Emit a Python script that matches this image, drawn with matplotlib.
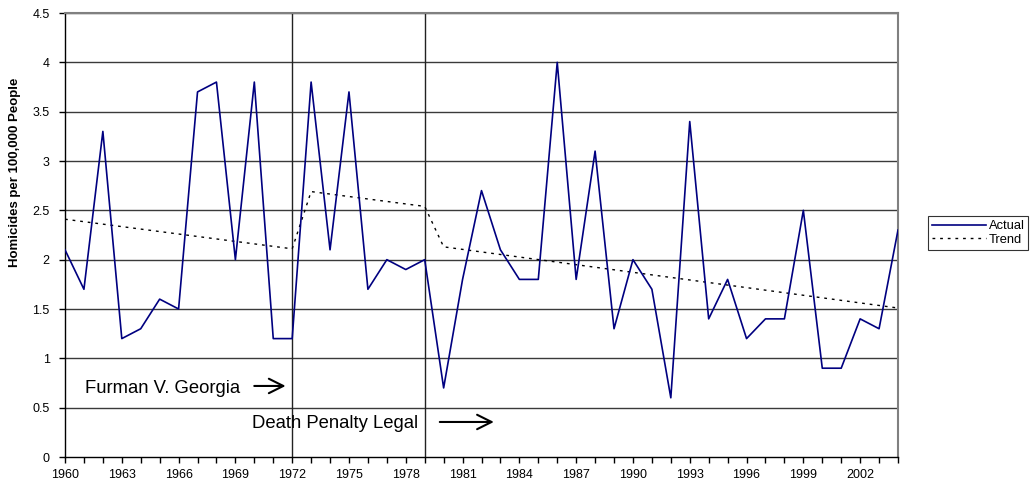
import matplotlib.pyplot as plt
import numpy as np

plt.rcParams['font.family'] = ['Liberation Sans', 'DejaVu Sans']

# data
years = list(range(1960, 2005))
actual = [2.1, 1.7, 3.3, 1.2, 1.3, 1.6, 1.5, 3.7, 3.8, 2.0,
          3.8, 1.2, 1.2, 3.8, 2.1, 3.7, 1.7, 2.0, 1.9, 2.0,
          0.7, 1.8, 2.7, 2.1, 1.8, 1.8, 4.0, 1.8, 3.1, 1.3,
          2.0, 1.7, 0.6, 3.4, 1.4, 1.8, 1.2, 1.4, 1.4, 2.5,
          0.9, 0.9, 1.4, 1.3, 2.3]
trend_years = [1960, 1972, 1973, 1979, 1980, 2004]
trend_vals = [2.41, 2.11, 2.69, 2.54, 2.13, 1.51]
event_years = [1972, 1979]
yticks = [0, 0.5, 1, 1.5, 2, 2.5, 3, 3.5, 4, 4.5]
ytick_labels = ['0', '0.5', '1', '1.5', '2', '2.5', '3', '3.5', '4', '4.5']
xlabel_years = list(range(1960, 2005, 3))

fig = plt.figure(figsize=(10.30, 4.87), dpi=100)
ax = fig.add_axes([65 / 1030, 30 / 487, 833 / 1030, 444 / 487])

for yv in yticks[1:]:
    ax.axhline(yv, color='#3a3a3a', lw=1, zorder=1)
for ev in event_years:
    ax.axvline(ev, color='#222222', lw=1, zorder=1)

ax.plot(years, actual, color='#000080', lw=1.2, label='Actual', zorder=3)
ax.plot(trend_years, trend_vals, color='black', lw=1.0, linestyle=(0, (2, 3.5)),
        label='Trend', zorder=2)

ax.set_xlim(1960, 2004)
ax.set_ylim(0, 4.5)
ax.set_xticks(years)
ax.set_xticklabels([str(y) if y in xlabel_years else '' for y in years])
ax.set_yticks(yticks)
ax.set_yticklabels(ytick_labels)
ax.tick_params(axis='both', direction='out', length=4, width=1, labelsize=9, color='black')
ax.tick_params(axis='y', pad=7)
ax.tick_params(axis='x', pad=5)

for s in ['left', 'bottom']:
    ax.spines[s].set_color('black')
    ax.spines[s].set_linewidth(1)
for s in ['top', 'right']:
    ax.spines[s].set_color('#808080')
    ax.spines[s].set_linewidth(1.5)

# annotations
ax.text(1961.06, 0.69, 'Furman V. Georgia', fontsize=13.3, va='center', ha='left')
ax.annotate('', xy=(1971.8, 0.72), xytext=(1969.85, 0.72),
            arrowprops=dict(arrowstyle='->', lw=1.5, color='black', mutation_scale=26))
ax.text(1969.88, 0.335, 'Death Penalty Legal', fontsize=13.3, va='center', ha='left')
ax.annotate('', xy=(1982.8, 0.355), xytext=(1979.65, 0.355),
            arrowprops=dict(arrowstyle='->', lw=1.5, color='black', mutation_scale=26))

fig.text(15.5 / 1030, 1 - 172 / 487, 'Homicides per 100,000 People', rotation=90,
         fontsize=9.5, fontweight='bold', ha='center', va='center')

leg = fig.legend(loc='center left', bbox_to_anchor=(928 / 1030, 1 - 233 / 487),
                 fontsize=9.3, frameon=True, fancybox=False, handlelength=4.2,
                 handletextpad=0.2, borderpad=0.3, labelspacing=0.1, borderaxespad=0)
leg.get_frame().set_edgecolor('black')
leg.get_frame().set_linewidth(0.8)

fig.savefig('out.png', dpi=100)
